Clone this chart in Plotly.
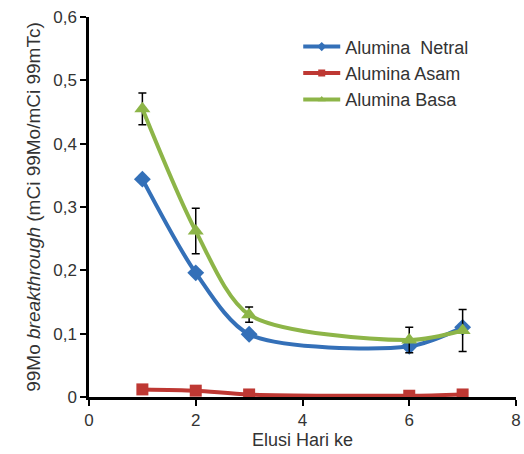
import plotly.graph_objects as go

hari = [1, 2, 3, 6, 7]
netral = [0.344, 0.196, 0.099, 0.080, 0.110]
asam = [0.012, 0.010, 0.004, 0.002, 0.004]
basa = [0.455, 0.262, 0.130, 0.090, 0.105]
basa_err = [0.025, 0.036, 0.012, 0.020, 0.033]

names = ["Alumina  Netral", "Alumina Asam", "Alumina Basa"]
colors = ["#3470B8", "#BE3833", "#8DB548"]
symbols = ["diamond", "square", "triangle-up"]
x_ticks = [0, 2, 4, 6, 8]
y_ticks = [0, 0.1, 0.2, 0.3, 0.4, 0.5, 0.6]
y_ticktext = ["0", "0,1", "0,2", "0,3", "0,4", "0,5", "0,6"]

fig = go.Figure()
series = [netral, asam, basa]
sizes = [13, 12, 14]
for i, ys in enumerate(series):
    kw = {}
    if i == 2:
        kw["error_y"] = dict(type="data", array=basa_err, color="black", thickness=1.5, width=4)
    fig.add_trace(go.Scatter(x=hari, y=ys, name=names[i], mode="lines+markers", showlegend=False,
                             line=dict(color=colors[i], width=4, shape="spline", smoothing=0.8),
                             marker=dict(symbol=symbols[i], size=sizes[i], color=colors[i]), **kw))
# legend entries with small markers
for i in range(3):
    fig.add_trace(go.Scatter(x=[None], y=[None], name=names[i], mode="lines+markers",
                             line=dict(color=colors[i], width=4),
                             marker=dict(symbol=symbols[i], size=7, color=colors[i])))

font = "Liberation Sans, Arial, sans-serif"
fig.update_layout(
    width=524, height=454,
    margin=dict(l=89, r=8, t=17, b=57, autoexpand=False),
    paper_bgcolor="white", plot_bgcolor="white",
    font=dict(family=font, size=17, color="#333"),
    showlegend=True,
    legend=dict(x=0.49, y=0.97, xanchor="left", yanchor="top", bgcolor="rgba(0,0,0,0)",
                font=dict(size=18, color="#333"), itemwidth=37, tracegroupgap=4),
    xaxis=dict(range=[0, 8], tickvals=x_ticks, showgrid=False, zeroline=False,
               showline=True, linecolor="black", linewidth=2.5, ticks="outside",
               ticklen=6, tickwidth=2, tickcolor="black", ticklabeloverflow="allow",
               title=dict(text="Elusi Hari ke", font=dict(size=18), standoff=2)),
    yaxis=dict(range=[0, 0.6], tickvals=y_ticks, ticktext=y_ticktext, showgrid=False, zeroline=False,
               showline=True, linecolor="black", linewidth=2.5, ticks="outside",
               ticklen=6, tickwidth=2, tickcolor="black",
               title=dict(text="99Mo <i>breakthrough</i> (mCi 99Mo/mCi 99mTc)", font=dict(size=19), standoff=8)),
)
fig.write_html("out.html", config={"displayModeBar": False},
               post_script="document.body.style.margin='0';")
